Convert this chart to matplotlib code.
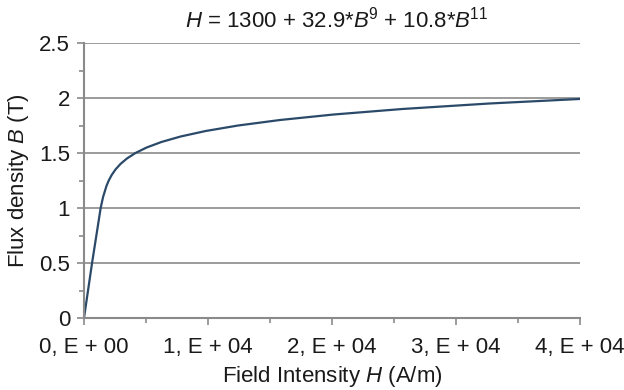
import matplotlib
matplotlib.use("Agg")
import matplotlib.pyplot as plt
from matplotlib.ticker import MultipleLocator, FixedLocator

plt.rcParams['font.family'] = ['Liberation Sans', 'DejaVu Sans']
plt.rcParams['mathtext.fontset'] = 'custom'
plt.rcParams['mathtext.rm'] = 'Liberation Sans'
plt.rcParams['mathtext.it'] = 'Liberation Sans:italic'

# Data (B in T, H in A/m)
flux_B = [0.0, 0.5, 1.0, 1.1, 1.2, 1.25, 1.3, 1.35, 1.4, 1.45, 1.5, 1.55,
          1.6, 1.65, 1.7, 1.75, 1.8, 1.85, 1.9, 1.95, 2.0]
field_H = [0, 650, 1344, 1538, 1810, 1996, 2232, 2538, 2937, 3461, 4149, 5054,
           6241, 7793, 9813, 12431, 15807, 20138, 25668, 32689, 41563]

x_ticks = [0, 10000, 20000, 30000, 40000]
x_tick_labels = ["0, E + 00", "1, E + 04", "2, E + 04", "3, E + 04", "4, E + 04"]
y_ticks = [0, 0.5, 1.0, 1.5, 2.0, 2.5]
y_tick_labels = ["0", "0.5", "1", "1.5", "2", "2.5"]

FS = 16
txt = '#1a1a1a'

fig = plt.figure(figsize=(6.24, 3.90), dpi=100)
ax = fig.add_axes([84/624, 1-318/390, (580-84)/624, (318-43)/390])

ax.plot(field_H, flux_B, color='#2b4a6a', lw=1.6, solid_capstyle='round')

ax.set_xlim(0, 40000)
ax.set_ylim(0, 2.5)
ax.xaxis.set_major_locator(FixedLocator(x_ticks))
ax.set_xticklabels(x_tick_labels)
ax.xaxis.set_minor_locator(MultipleLocator(5000))
ax.yaxis.set_major_locator(FixedLocator(y_ticks))
ax.set_yticklabels(y_tick_labels)
ax.yaxis.set_minor_locator(MultipleLocator(0.25))

gray = '#8a8a8a'
ax.grid(axis='y', which='major', color=gray, lw=1.2)
ax.set_axisbelow(True)
for s in ['top', 'right']:
    ax.spines[s].set_visible(False)
for s in ['left', 'bottom']:
    ax.spines[s].set_color(gray)
    ax.spines[s].set_linewidth(1.5)

ax.tick_params(axis='both', which='both', direction='out', color=gray, width=1.2,
               labelsize=FS, labelcolor=txt)
ax.tick_params(axis='both', which='major', length=5)
ax.tick_params(axis='both', which='minor', length=3.5)
ax.tick_params(axis='x', which='major', pad=9)
ax.tick_params(axis='y', which='major', pad=5)

ax.set_xlabel("Field Intensity $H$ (A/m)", fontsize=FS, color=txt, labelpad=4)
ax.set_ylabel("Flux density $B$ (T)", fontsize=FS, color=txt, labelpad=6)
ax.set_title("$H$ = 1300 + 32.9*$B$$^{9}$ + 10.8*$B$$^{11}$", fontsize=FS,
             color=txt, pad=11, x=0.51)

fig.savefig("out.png", dpi=100)
